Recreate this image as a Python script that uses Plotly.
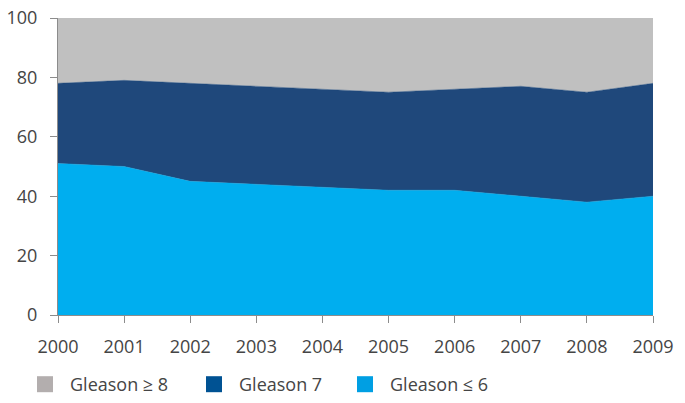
import plotly.graph_objects as go

years = [2000, 2001, 2002, 2003, 2004, 2005, 2006, 2007, 2008, 2009]
gleason_le6 = [51, 50, 45, 44, 43, 42, 42, 40, 38, 40]
gleason_7 = [27, 29, 33, 33, 33, 33, 34, 37, 37, 38]
gleason_ge8 = [22, 21, 22, 23, 24, 25, 24, 23, 25, 22]
y_ticks = [0, 20, 40, 60, 80, 100]

names = ["Gleason ≤ 6", "Gleason 7", "Gleason ≥ 8"]
area_colors = ["#00AEEF", "#1F487B", "#C0C0C0"]
legend_colors = ["#009FE3", "#005293", "#B3AEAE"]
series = [gleason_le6, gleason_7, gleason_ge8]

fig = go.Figure()
for name, vals, col in zip(names, series, area_colors):
    fig.add_trace(go.Scatter(
        x=years, y=vals, name=name, stackgroup="one", mode="lines",
        line=dict(width=0.5, color=col), fillcolor=col, showlegend=False,
    ))

# legend swatches (order: ≥8, 7, ≤6), one small legend each
legend_ids = ["legend", "legend2", "legend3"]
for name, col, lid in zip(names[::-1], legend_colors[::-1], legend_ids):
    fig.add_trace(go.Scatter(
        x=[None], y=[None], name=name, mode="markers", legend=lid,
        marker=dict(symbol="square", size=16, color=col),
    ))

leg_common = dict(orientation="h", xref="container", yref="container",
                  xanchor="left", y=-0.011, yanchor="bottom",
                  font=dict(size=18, color="#454545"), itemwidth=40,
                  bgcolor="rgba(0,0,0,0)")
leg_x = [20 / 685, 189 / 685, 340 / 685]

axis_col = "#8C8C8C"
fig.update_layout(
    template="none",
    width=685, height=403,
    margin=dict(l=58, r=32, t=18, b=88, autoexpand=False),
    paper_bgcolor="white", plot_bgcolor="white",
    font=dict(family="Open Sans, Lato, sans-serif", size=18, color="#454545"),
    showlegend=True,
    legend=dict(x=leg_x[0], **leg_common),
    legend2=dict(x=leg_x[1], **leg_common),
    legend3=dict(x=leg_x[2], **leg_common),
    xaxis=dict(range=[2000, 2009], tickmode="array", tickvals=years,
               ticktext=[str(y) for y in years], showgrid=False, zeroline=False,
               showline=True, linecolor=axis_col, linewidth=1, automargin=False,
               ticks="outside", ticklen=7, tickcolor=axis_col, ticklabelstandoff=8),
    yaxis=dict(range=[0, 100], tickvals=y_ticks, showgrid=False, automargin=False,
               zeroline=False, showline=True, linecolor=axis_col, linewidth=1,
               ticks="outside", ticklen=7, tickcolor=axis_col, ticklabelstandoff=9),
)

fig.write_html("out.html", config={"displayModeBar": False},
               post_script="document.body.style.margin='0';document.body.style.padding='0';")
